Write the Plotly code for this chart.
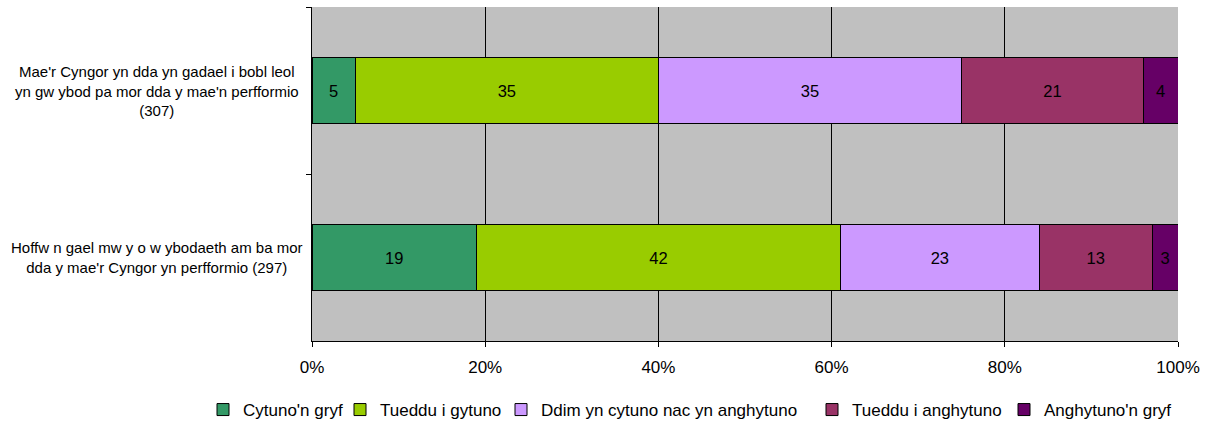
import plotly.graph_objects as go

# categories, top to bottom as in the chart
categories = [
    "Mae'r Cyngor yn dda yn gadael i bobl leol<br>yn gw ybod pa mor dda y mae'n perfformio<br>(307)",
    "Hoffw n gael mw y o w ybodaeth am ba mor<br>dda y mae'r Cyngor yn perfformio (297)",
]
series_names = [
    "Cytuno'n gryf",
    "Tueddu i gytuno",
    "Ddim yn cytuno nac yn anghytuno",
    "Tueddu i anghytuno",
    "Anghytuno'n gryf",
]
cytuno_gryf = [5, 19]
tueddu_gytuno = [35, 42]
ddim = [35, 23]
tueddu_anghytuno = [21, 13]
anghytuno_gryf = [4, 3]
x_ticks = [0, 20, 40, 60, 80, 100]

colors = ["#339966", "#99CC00", "#CC99FF", "#993366", "#660066"]

# layout (body margin removed in the page, so figure sits at 0,0)
W, H = 1210, 423
L, R, T, B = 312, 32, 7, 82
plot_w = W - L - R
plot_h = H - T - B

# legend entries: where each label's text starts on the page
legend_text_px = [241, 378, 539, 850, 1042]
legend_x = [(p - 38 - L) / plot_w for p in legend_text_px]
legend_y = ((H - B) - 410) / plot_h

fig = go.Figure()
all_vals = [cytuno_gryf, tueddu_gytuno, ddim, tueddu_anghytuno, anghytuno_gryf]
for i, (name, vals, col) in enumerate(zip(series_names, all_vals, colors)):
    fig.add_trace(go.Bar(
        y=categories, x=vals, name=name, orientation="h",
        marker=dict(color=col, line=dict(color="black", width=1)),
        text=[str(v) for v in vals], textposition="inside",
        insidetextanchor="middle", textangle=0,
        textfont=dict(color="black", size=16.5),
        hoverinfo="skip",
        legend="legend" if i == 0 else f"legend{i + 1}",
    ))

legends = {}
for i, lx in enumerate(legend_x):
    key = "legend" if i == 0 else f"legend{i + 1}"
    legends[key] = dict(orientation="h", x=lx, xanchor="left", y=legend_y, yanchor="middle",
                        font=dict(size=17, color="black"), bgcolor="rgba(0,0,0,0)")

# category labels, centred like the original
annotations = [
    dict(text=c, x=(157 - L) / plot_w, xref="paper", xanchor="center",
         y=c, yref="y", yanchor="middle", showarrow=False, align="center",
         font=dict(size=15, color="black"))
    for c in categories
]

fig.update_layout(
    barmode="stack",
    bargap=0.6,
    width=W, height=H,
    margin=dict(l=L, r=R, t=T, b=B, autoexpand=False),
    plot_bgcolor="#C0C0C0",
    paper_bgcolor="white",
    font=dict(family="Liberation Sans, Arial", color="black", size=16),
    uniformtext=dict(mode="show", minsize=10),
    annotations=annotations,
    showlegend=True,
    **legends,
)
fig.update_xaxes(
    range=[0, 100], tickvals=x_ticks, ticktext=[f"{t}%" for t in x_ticks],
    showgrid=True, gridcolor="black", gridwidth=1,
    showline=True, linecolor="black", ticks="outside", ticklen=5, tickcolor="black",
    tickfont=dict(size=17), zeroline=False, ticklabelstandoff=6,
)
fig.update_yaxes(
    autorange="reversed", tickson="boundaries", ticks="outside", ticklen=5,
    tickcolor="black", showline=True, linecolor="black", showgrid=False,
    showticklabels=False,
)

fig.write_html("out.html", config={"displayModeBar": False},
               post_script="document.body.style.margin='0';document.body.style.overflow='hidden';")
